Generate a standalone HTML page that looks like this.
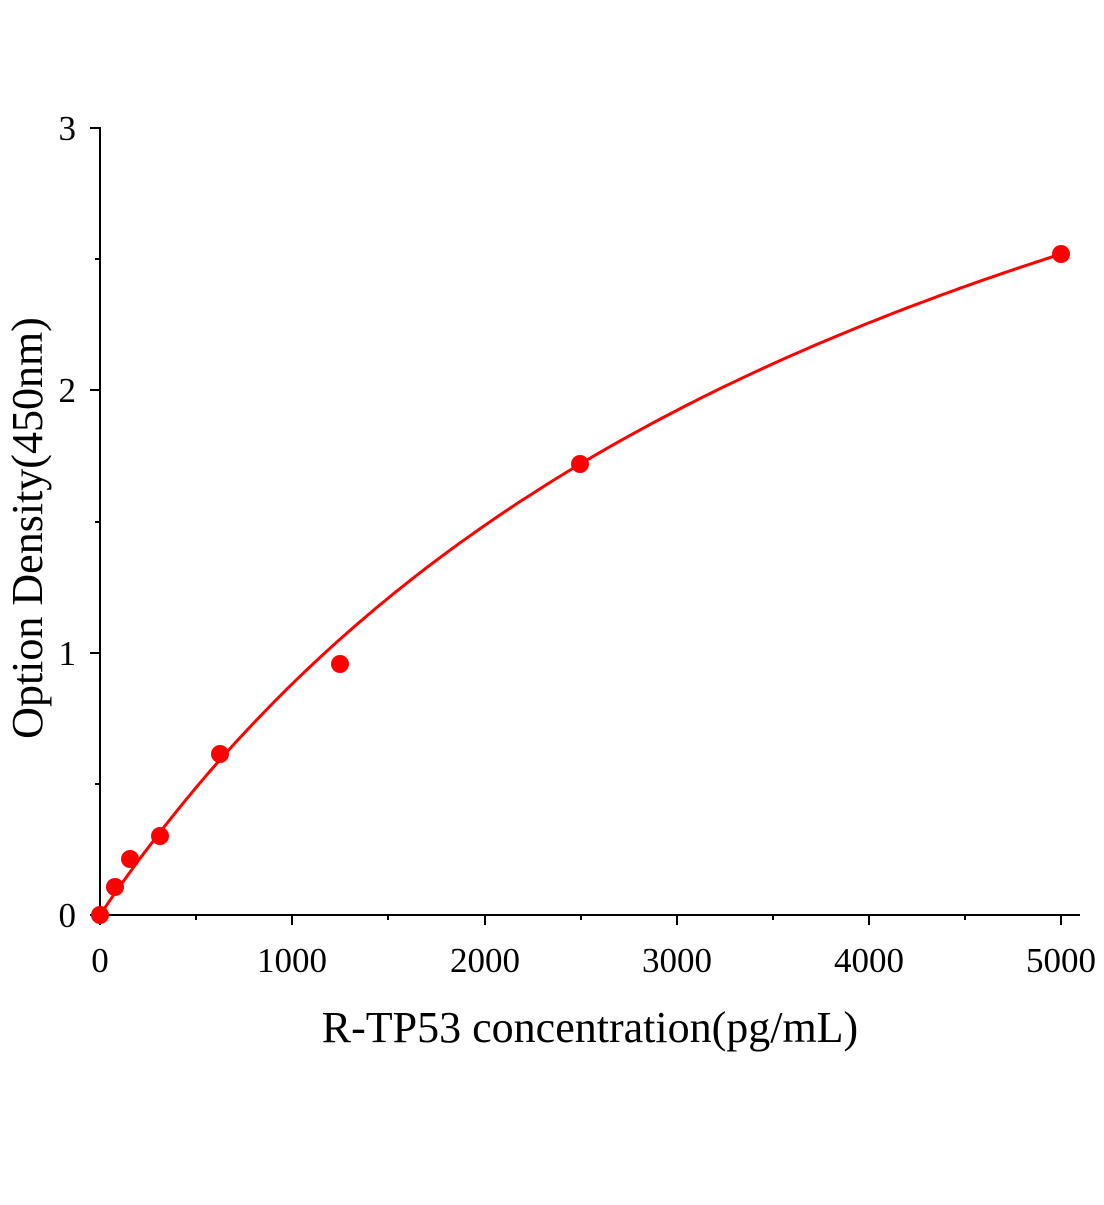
<!DOCTYPE html>
<html><head><style>body{margin:0;background:#fff}</style></head><body>
<svg id="s" width="1104" height="1200" xmlns="http://www.w3.org/2000/svg" font-family="Liberation Serif, serif">
<g stroke="#000" stroke-width="2" fill="none">
<line x1="100" y1="915" x2="1080" y2="915"/>
<line x1="100" y1="915" x2="100" y2="127"/>
<line x1="100" y1="915" x2="100" y2="925"/>
<line x1="196" y1="915" x2="196" y2="920"/>
<line x1="292" y1="915" x2="292" y2="925"/>
<line x1="388" y1="915" x2="388" y2="920"/>
<line x1="485" y1="915" x2="485" y2="925"/>
<line x1="581" y1="915" x2="581" y2="920"/>
<line x1="677" y1="915" x2="677" y2="925"/>
<line x1="773" y1="915" x2="773" y2="920"/>
<line x1="869" y1="915" x2="869" y2="925"/>
<line x1="965" y1="915" x2="965" y2="920"/>
<line x1="1061" y1="915" x2="1061" y2="925"/>
<line x1="90" y1="915" x2="100" y2="915"/>
<line x1="95" y1="784" x2="100" y2="784"/>
<line x1="90" y1="653" x2="100" y2="653"/>
<line x1="95" y1="522" x2="100" y2="522"/>
<line x1="90" y1="390" x2="100" y2="390"/>
<line x1="95" y1="259" x2="100" y2="259"/>
<line x1="90" y1="128" x2="100" y2="128"/>
</g>
<g font-size="35" fill="#000" text-anchor="middle">
<text x="100" y="972">0</text><text x="292" y="972">1000</text><text x="485" y="972">2000</text>
<text x="677" y="972">3000</text><text x="869" y="972">4000</text><text x="1061" y="972">5000</text>
</g>
<g font-size="35" fill="#000" text-anchor="end">
<text x="76" y="927">0</text><text x="76" y="665">1</text><text x="76" y="402">2</text><text x="76" y="140">3</text>
</g>
<text x="590" y="1042" font-size="44" text-anchor="middle">R-TP53 concentration(pg/mL)</text>
<text transform="translate(42,528) rotate(-90)" font-size="44" text-anchor="middle">Option Density(450nm)</text>
<path id="c" fill="none" stroke="#f00" stroke-width="3"/>
<g fill="#f00">
<circle cx="100" cy="915" r="9"/><circle cx="115" cy="887" r="9"/><circle cx="130" cy="859" r="9"/>
<circle cx="160" cy="836" r="9"/><circle cx="220" cy="754" r="9"/><circle cx="340" cy="664" r="9"/>
<circle cx="580" cy="464" r="9"/><circle cx="1061" cy="254" r="9"/>
</g>
</svg>
<script>
var d="";for(var i=0;i<=200;i++){var x=5000*i/200;var y=4.71*x/(4346+x);d+=(i?"L":"M")+(100+x*0.1922).toFixed(1)+" "+(915-y*262.3).toFixed(1);}
document.getElementById("c").setAttribute("d",d);
</script>
</body></html>
